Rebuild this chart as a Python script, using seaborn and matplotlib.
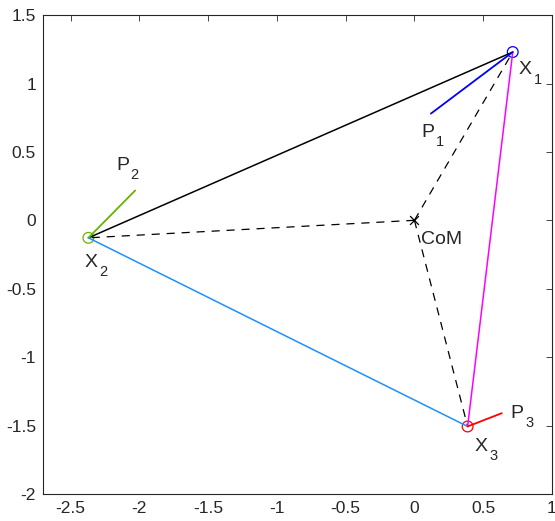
import matplotlib
matplotlib.use('Agg')
import matplotlib.pyplot as plt
import seaborn as sns
import pandas as pd
import numpy as np

# body positions X1, X2, X3 and centre of mass
body_x = [0.715, -2.37, 0.387]
body_y = [1.23, -0.128, -1.507]
com = [0.0, 0.0]

# momentum vector end points P1, P2, P3
mom_x = [0.12, -2.03, 0.635]
mom_y = [0.78, 0.218, -1.41]

body_colors = ['#0000ff', '#66b300', '#ff0000']
side_colors = {(0, 1): 'black', (1, 2): '#1e90ff', (0, 2): '#ff00ff'}

subs = ['1', '2', '3']
x_label_pos = [(0.76, 1.1), (-2.4, -0.31), (0.44, -1.65)]
p_label_pos = [(0.05, 0.64), (-2.17, 0.40), (0.7, -1.41)]

sns.set_style('white')
plt.rcParams['font.family'] = ['Liberation Sans', 'DejaVu Sans']

fig = plt.figure(figsize=(5.55, 5.21), dpi=100)
ax = fig.add_axes([0.0775, 0.052, 0.917, 0.919])

def seg(xa, ya, xb, yb, **kw):
    df = pd.DataFrame({'x': [xa, xb], 'y': [ya, yb]})
    sns.lineplot(data=df, x='x', y='y', sort=False, estimator=None, ax=ax, **kw)

def label(pos, letter, sub):
    ax.text(pos[0], pos[1], letter, fontsize=14, ha='left', va='center')
    ax.annotate(sub, xy=pos, xytext=(10.5, -7), textcoords='offset points',
                fontsize=10.5, ha='left', va='center')

# dashed lines from CoM
for i in range(3):
    seg(com[0], com[1], body_x[i], body_y[i], color='black', linestyle=(0, (6.5, 5.5)), linewidth=0.9)

# triangle sides
for (i, j), c in side_colors.items():
    seg(body_x[i], body_y[i], body_x[j], body_y[j], color=c, linewidth=1.1)

# momentum vectors
for i in range(3):
    seg(body_x[i], body_y[i], mom_x[i], mom_y[i], color=body_colors[i], linewidth=1.3)

# markers
for i in range(3):
    sns.scatterplot(x=[body_x[i]], y=[body_y[i]], marker='o', s=60, facecolor='none',
                    edgecolor=body_colors[i], linewidth=0.9, ax=ax)
sns.scatterplot(x=[com[0]], y=[com[1]], marker='x', s=40, color='black', linewidth=0.9, ax=ax)

for i in range(3):
    label(x_label_pos[i], 'X', subs[i])
    label(p_label_pos[i], 'P', subs[i])
ax.text(0.05, -0.14, 'CoM', fontsize=14, ha='left', va='center')

ax.set_xlim(-2.7, 1)
ax.set_ylim(-2, 1.5)
ax.set_xticks(np.arange(-2.5, 1.01, 0.5))
ax.set_yticks(np.arange(-2, 1.51, 0.5))
ax.set_xticklabels(['-2.5', '-2', '-1.5', '-1', '-0.5', '0', '0.5', '1'])
ax.set_yticklabels(['-2', '-1.5', '-1', '-0.5', '0', '0.5', '1', '1.5'])
ax.tick_params(direction='in', top=True, right=True, length=4, width=0.6, labelsize=12.5, pad=5)
ax.set_xlabel('')
ax.set_ylabel('')
for s in ax.spines.values():
    s.set_color('#262626')
    s.set_linewidth(0.8)

plt.savefig('out.png', dpi=100)
